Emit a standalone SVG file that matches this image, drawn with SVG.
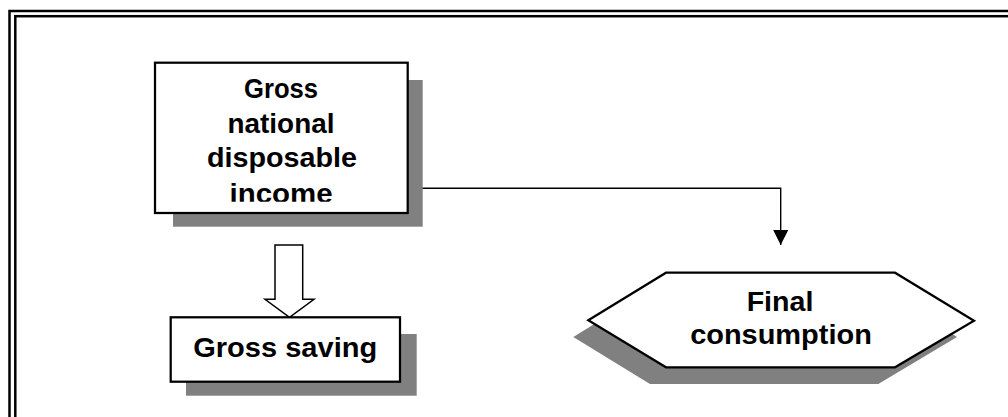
<svg xmlns="http://www.w3.org/2000/svg" width="1008" height="417" viewBox="0 0 1008 417">
<style>
.frame{fill:none;stroke:#000;stroke-width:2.5}
.shadow{fill:#808080;stroke:none}
.box{fill:#fff;stroke:#000;stroke-width:2.25}
.lbl{font-family:"Liberation Sans",Arial,sans-serif;font-weight:bold;font-size:27px;fill:#000;text-anchor:middle}
.conn{fill:none;stroke:#000;stroke-width:1.4}
.hollow{fill:#fff;stroke:#000;stroke-width:1.5;stroke-linejoin:miter}
</style>
<defs>
<marker id="arrow" markerUnits="userSpaceOnUse" markerWidth="16" markerHeight="15" refX="15" refY="7.5" orient="auto">
<path d="M0,0 L15,7.5 L0,15 Z" fill="#000"/>
</marker>
<clipPath id="clipMain"><rect x="156" y="64" width="251" height="137.7"/></clipPath>
</defs>
<rect width="1008" height="417" fill="#fff"/>
<g id="frame">
<rect class="frame" x="9.5" y="11" width="1100" height="500"/>
<rect class="frame" x="15.3" y="16.2" width="1100" height="500"/>
</g>
<g id="connectors">
<polyline class="conn" points="420,188.3 780.7,188.3 780.7,245" marker-end="url(#arrow)"/>
<path class="hollow" d="M275,245 L302.7,245 L302.7,299.3 L314,299.3 L289.5,317.3 L265,299.3 L275,299.3 Z"/>
</g>
<g id="node-gndi">
<rect class="shadow" x="173" y="80" width="249.7" height="146.7"/>
<rect class="box" x="155" y="62.7" width="252.7" height="150.3"/>
<g clip-path="url(#clipMain)">
<text class="lbl" x="281" y="98" textLength="74" lengthAdjust="spacingAndGlyphs">Gross</text>
<text class="lbl" x="281" y="132.5" textLength="107" lengthAdjust="spacingAndGlyphs">national</text>
<text class="lbl" x="282" y="167" textLength="150" lengthAdjust="spacingAndGlyphs">disposable</text>
<text class="lbl" x="281" y="203" textLength="103" lengthAdjust="spacingAndGlyphs">income</text>
</g>
</g>
<g id="node-saving">
<rect class="shadow" x="186" y="334" width="230.7" height="61.7"/>
<rect class="box" x="170.7" y="317.3" width="229.3" height="64.4"/>
<text class="lbl" x="285.2" y="357" textLength="184" lengthAdjust="spacingAndGlyphs">Gross saving</text>
</g>
<g id="node-consumption">
<polygon class="shadow" points="573.3,337 651,289 880,289 957,337 878.3,384 650,384"/>
<polygon class="box" points="588.3,320.3 666,272.7 895,272.7 974,320.7 895,367.3 666,367.3"/>
<text class="lbl" x="780" y="311" textLength="66.7" lengthAdjust="spacingAndGlyphs">Final</text>
<text class="lbl" x="781" y="343.5" textLength="181.7" lengthAdjust="spacingAndGlyphs">consumption</text>
</g>
</svg>
